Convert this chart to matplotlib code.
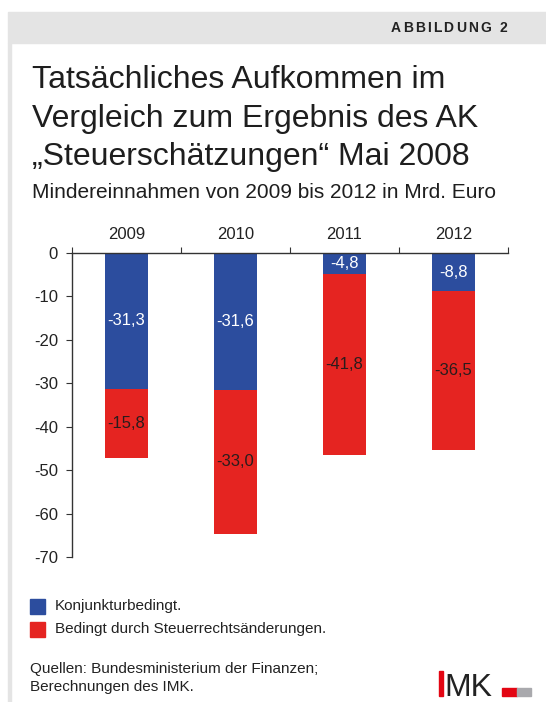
import numpy as np
import matplotlib
matplotlib.use("Agg")
import matplotlib.pyplot as plt
from matplotlib.patches import Rectangle

plt.rcParams['font.family'] = ['Liberation Sans', 'DejaVu Sans']

# Daten
jahre = ["2009", "2010", "2011", "2012"]
konjunktur = [-31.3, -31.6, -4.8, -8.8]
steuerrecht = [-15.8, -33.0, -41.8, -36.5]
yticks = [0, -10, -20, -30, -40, -50, -60, -70]

blau = '#2c4d9e'
rot = '#e52421'
grau = '#e4e4e4'

W, H = 546, 702
fig = plt.figure(figsize=(W / 100, H / 100), dpi=100)


def fx(x):
    return x / W


def fy(y):
    return 1 - y / H


# Kopfband und linke Linie
fig.patches.append(Rectangle((fx(8), fy(43)), 1 - fx(8), fy(12) - fy(43),
                             transform=fig.transFigure, color=grau, zorder=0))
fig.patches.append(Rectangle((fx(8), 0), fx(3), fy(43),
                             transform=fig.transFigure, color=grau, zorder=0))

# ABBILDUNG 2 mit Sperrung
r = fig.canvas.get_renderer()
kopf = "ABBILDUNG 2"
sperr = 2.2
breiten = []
for c in kopf:
    t = fig.text(0, 0, c if c != ' ' else 'a', fontsize=10, fontweight='bold')
    b = t.get_window_extent(r).width
    if c == ' ':
        t2 = fig.text(0, 0, 'a a', fontsize=10, fontweight='bold')
        b = t2.get_window_extent(r).width - 2 * b
        t2.remove()
    t.remove()
    breiten.append(b)
gesamt = sum(breiten) + sperr * (len(kopf) - 1)
x0 = 507 - gesamt
for c, b in zip(kopf, breiten):
    fig.text(fx(x0), fy(32), c, fontsize=10, fontweight='bold',
             color='#222222', va='baseline', ha='left')
    x0 += b + sperr

# Titel
titel = ["Tatsächliches Aufkommen im",
         "Vergleich zum Ergebnis des AK",
         "„Steuerschätzungen“ Mai 2008"]
for i, zeile in enumerate(titel):
    fig.text(fx(32), fy(88 + i * 38.5), zeile, fontsize=23,
             color='#1e1e1e', va='baseline')
fig.text(fx(32), fy(198), "Mindereinnahmen von 2009 bis 2012 in Mrd. Euro",
         fontsize=15, color='#1e1e1e', va='baseline')

# Diagramm
ax = fig.add_axes([fx(72), fy(557), fx(508) - fx(72), fy(253) - fy(557)])
x = np.arange(len(jahre))
b1 = ax.bar(x, konjunktur, width=0.4, color=blau)
b2 = ax.bar(x, steuerrecht, width=0.4, bottom=konjunktur, color=rot)

for i in range(len(jahre)):
    ax.text(x[i], konjunktur[i] / 2, f"{konjunktur[i]:.1f}".replace('.', ','),
            ha='center', va='center', color='white', fontsize=12)
    ax.text(x[i], konjunktur[i] + steuerrecht[i] / 2,
            f"{steuerrecht[i]:.1f}".replace('.', ','),
            ha='center', va='center', color='#2a1c1c', fontsize=12)

ax.set_xlim(-0.5, len(jahre) - 0.5)
ax.set_ylim(-70, 0)
ax.set_yticks(yticks)
ax.set_yticklabels([str(v) for v in yticks], fontsize=12, color='#222222')
ax.xaxis.tick_top()
ax.set_xticks(np.arange(-0.5, len(jahre)))
ax.set_xticklabels([])
ax.set_xticks(x, minor=True)
ax.set_xticklabels(jahre, minor=True, fontsize=12, color='#222222')
ax.tick_params(axis='x', which='major', direction='out', length=4,
               color='#333333')
ax.tick_params(axis='x', which='minor', length=0, pad=8)
ax.tick_params(axis='y', direction='out', length=4, color='#333333', pad=6)
for s in ['bottom', 'right']:
    ax.spines[s].set_visible(False)
for s in ['top', 'left']:
    ax.spines[s].set_color('#333333')
    ax.spines[s].set_linewidth(1)
ax.patch.set_alpha(0)

# Legende
fig.patches.append(Rectangle((fx(30), fy(614)), fx(15), fy(599) - fy(614),
                             transform=fig.transFigure, color=blau))
fig.patches.append(Rectangle((fx(30), fy(637)), fx(15), fy(622) - fy(637),
                             transform=fig.transFigure, color=rot))
fig.text(fx(55), fy(606), "Konjunkturbedingt.", fontsize=11,
         color='#222222', va='center')
fig.text(fx(55), fy(629), "Bedingt durch Steuerrechtsänderungen.", fontsize=11,
         color='#222222', va='center')

# Quellen
fig.text(fx(30), fy(673), "Quellen: Bundesministerium der Finanzen;",
         fontsize=11, color='#222222', va='baseline')
fig.text(fx(30), fy(691), "Berechnungen des IMK.",
         fontsize=11, color='#222222', va='baseline')

# IMK-Logo
fig.patches.append(Rectangle((fx(439), fy(696)), fx(4), fy(671) - fy(696),
                             transform=fig.transFigure, color='#e30613'))
fig.text(fx(444), fy(696), "MK", fontsize=23, color='#222222',
         va='baseline', ha='left')
fig.patches.append(Rectangle((fx(502), fy(696)), fx(15), fy(688) - fy(696),
                             transform=fig.transFigure, color='#e30613'))
fig.patches.append(Rectangle((fx(517), fy(696)), fx(14), fy(688) - fy(696),
                             transform=fig.transFigure, color='#a9a9ad'))

fig.savefig("out.png", dpi=100)
